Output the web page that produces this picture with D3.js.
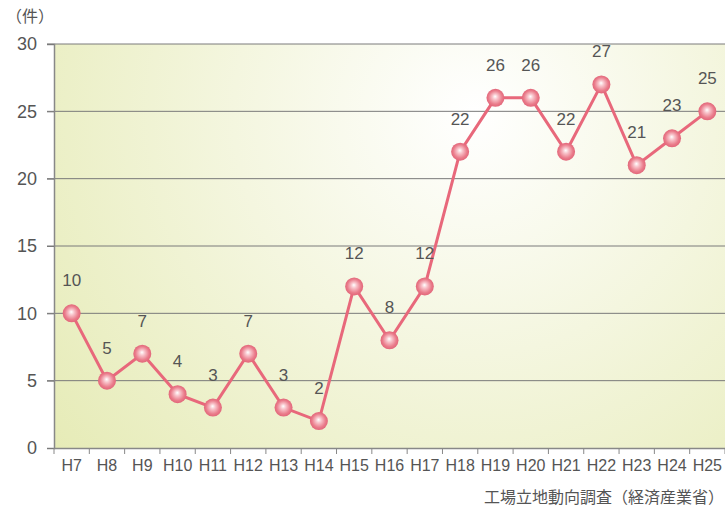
<!DOCTYPE html>
<html>
<head>
<meta charset="utf-8">
<script src="https://cdn.jsdelivr.net/npm/d3@7"></script>
<style>
  body { margin: 0; background: #fff; }
  text { font-family: "Liberation Sans", "Noto Sans CJK JP", sans-serif; fill: #555; }
</style>
</head>
<body>
<svg id="chart" width="725" height="508"></svg>
<script>
// 工場立地件数（年次）
var years = ["H7","H8","H9","H10","H11","H12","H13","H14","H15","H16","H17","H18","H19","H20","H21","H22","H23","H24","H25"];
var counts = [10, 5, 7, 4, 3, 7, 3, 2, 12, 8, 12, 22, 26, 26, 22, 27, 21, 23, 25];
var yTicks = [0, 5, 10, 15, 20, 25, 30];

var margin = { top: 44, right: 0, bottom: 60, left: 54 },
    width = 725 - margin.left - margin.right,
    height = 508 - margin.top - margin.bottom;

var svg = d3.select("#chart");
var defs = svg.append("defs");

var bg = defs.append("radialGradient")
    .attr("id", "bg")
    .attr("gradientUnits", "userSpaceOnUse")
    .attr("cx", 420).attr("cy", 70)
    .attr("r", 600);
bg.append("stop").attr("offset", "0%").attr("stop-color", "#ffffff");
bg.append("stop").attr("offset", "40%").attr("stop-color", "#f4f6df");
bg.append("stop").attr("offset", "100%").attr("stop-color", "#e3e9ae");

var ball = defs.append("radialGradient")
    .attr("id", "ball")
    .attr("cx", "50%").attr("cy", "50%").attr("r", "50%")
    .attr("fx", "48%").attr("fy", "42%");
ball.append("stop").attr("offset", "0%").attr("stop-color", "#ffffff");
ball.append("stop").attr("offset", "30%").attr("stop-color", "#f8c4cb");
ball.append("stop").attr("offset", "75%").attr("stop-color", "#ea7c8b");
ball.append("stop").attr("offset", "100%").attr("stop-color", "#e2667a");

var g = svg.append("g")
    .attr("transform", "translate(" + margin.left + "," + margin.top + ")");

var x = d3.scaleBand().domain(years).range([0, width]);
var y = d3.scaleLinear().domain([0, 30]).range([height, 0]);

g.append("rect")
    .attr("width", width).attr("height", height)
    .attr("fill", "url(#bg)");

// grid lines
g.append("g").selectAll("line")
    .data(yTicks.filter(function (d) { return d > 0; }))
    .enter().append("line")
    .attr("x1", -7).attr("x2", width)
    .attr("y1", function (d) { return y(d); })
    .attr("y2", function (d) { return y(d); })
    .attr("stroke", "#7a7a7a").attr("stroke-width", 1);

// y axis
var yAxis = g.append("g")
    .call(d3.axisLeft(y).tickValues(yTicks).tickSize(7).tickPadding(10));
yAxis.select(".domain").attr("stroke", "#888").attr("stroke-width", 1.5);
yAxis.selectAll(".tick line").attr("stroke", "#7a7a7a");
yAxis.selectAll("text").attr("fill", "#555").style("font-size", "18px");

// x axis
var xAxis = g.append("g")
    .attr("transform", "translate(0," + height + ")")
    .call(d3.axisBottom(x).tickSize(0).tickPadding(12));
xAxis.select(".domain").attr("stroke", "#888").attr("stroke-width", 1.5);
xAxis.selectAll("text").attr("fill", "#555").style("font-size", "16px");
xAxis.selectAll(".sep")
    .data(d3.range(years.length + 1))
    .enter().append("line")
    .attr("x1", function (i) { return i * x.step(); })
    .attr("x2", function (i) { return i * x.step(); })
    .attr("y1", 0).attr("y2", 6)
    .attr("stroke", "#888");

// line
var line = d3.line()
    .x(function (d, i) { return x(years[i]) + x.bandwidth() / 2; })
    .y(function (d) { return y(d); });

g.append("path")
    .datum(counts)
    .attr("d", line)
    .attr("fill", "none")
    .attr("stroke", "#e8687b")
    .attr("stroke-width", 3);

g.append("g").selectAll("circle")
    .data(counts)
    .enter().append("circle")
    .attr("cx", function (d, i) { return x(years[i]) + x.bandwidth() / 2; })
    .attr("cy", function (d) { return y(d); })
    .attr("r", 9)
    .attr("fill", "url(#ball)");

g.append("g").selectAll("text")
    .data(counts)
    .enter().append("text")
    .attr("x", function (d, i) { return x(years[i]) + x.bandwidth() / 2; })
    .attr("y", function (d) { return y(d) - 27; })
    .attr("text-anchor", "middle")
    .style("font-size", "17px")
    .attr("fill", "#444")
    .text(function (d) { return d; });

svg.append("text")
    .attr("x", 30).attr("y", 22)
    .attr("text-anchor", "middle")
    .style("font-size", "16px")
    .text("（件）");

svg.append("text")
    .attr("x", 724).attr("y", 503)
    .attr("text-anchor", "end")
    .style("font-size", "16px")
    .text("工場立地動向調査（経済産業省）");
</script>
</body>
</html>
